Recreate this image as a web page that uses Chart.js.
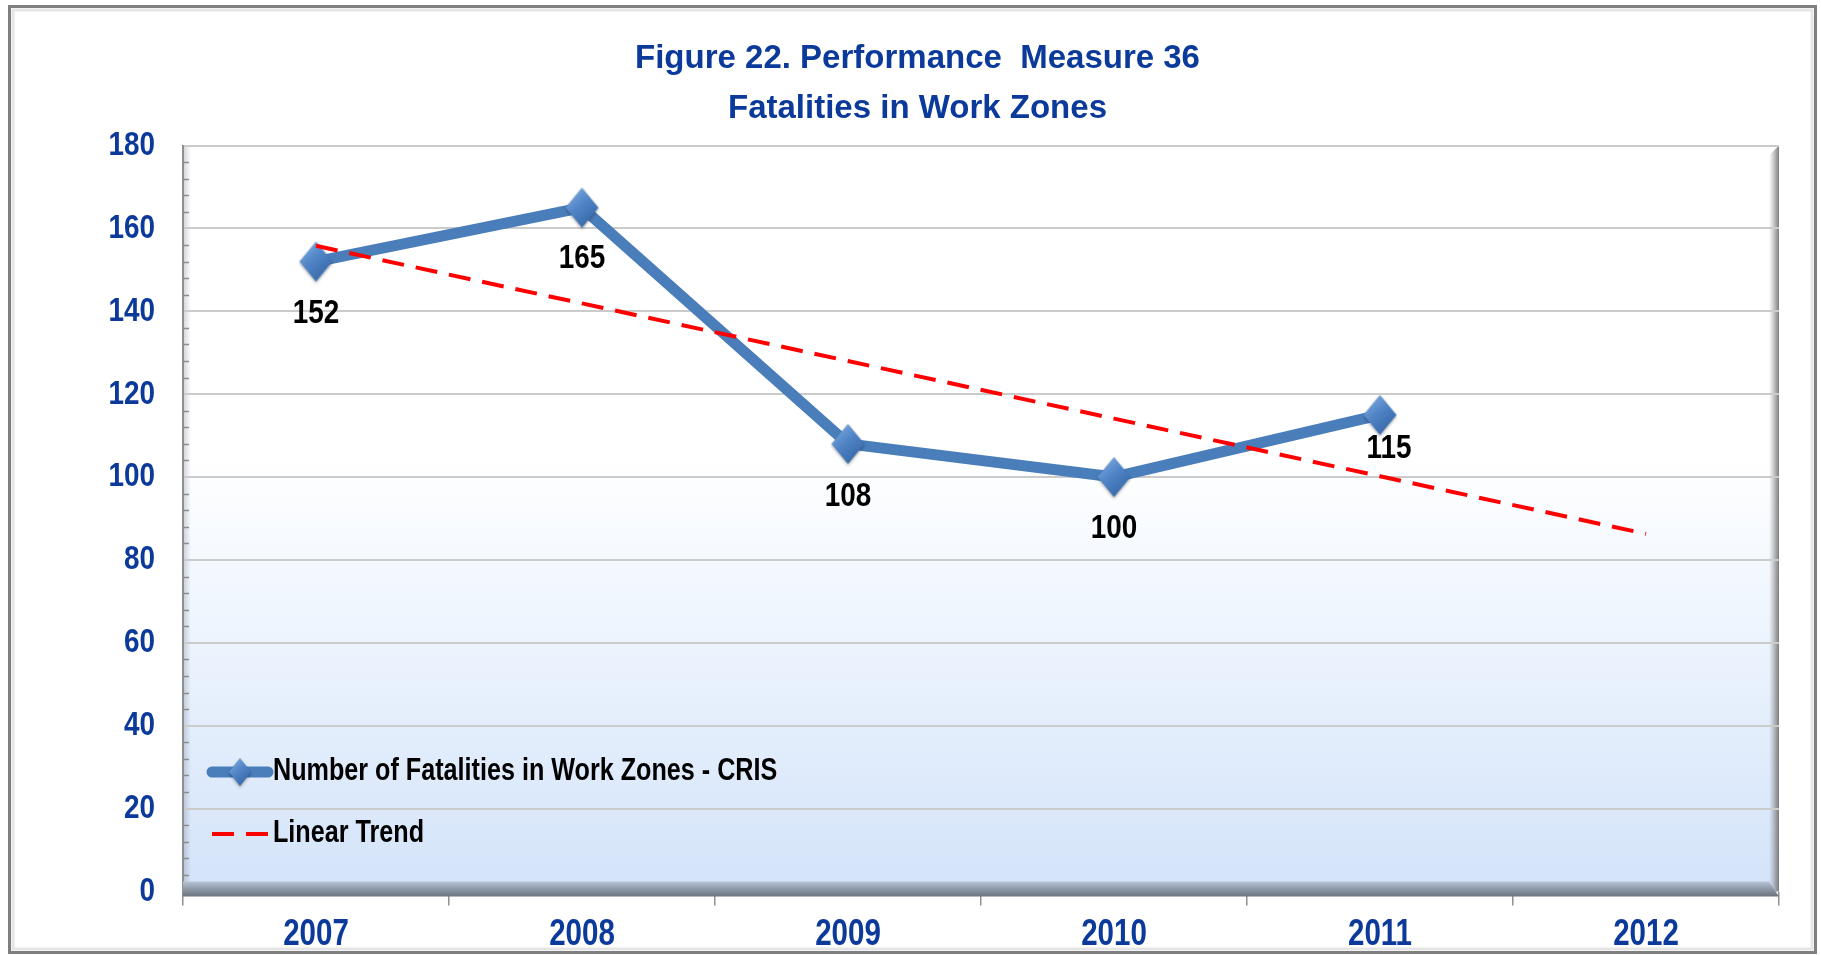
<!DOCTYPE html>
<html>
<head>
<meta charset="utf-8">
<title>Fatalities in Work Zones</title>
<script src="https://cdn.jsdelivr.net/npm/chart.js@4.4.1/dist/chart.umd.min.js"></script>
<style>
  html, body { margin: 0; padding: 0; background: #fff; }
  #chart { display: block; }
</style>
</head>
<body>
<canvas id="chart" width="1821" height="956"></canvas>
<script>
// Work zone fatalities (CRIS) with linear trend, 2007-2012

const years = ['2007', '2008', '2009', '2010', '2011', '2012'];
const fatalities = [152, 165, 108, 100, 115, null];
const linearTrend = [155.8, 141.9, 128.0, 114.1, 100.2, 86.3];
const yTicks = [0, 20, 40, 60, 80, 100, 120, 140, 160, 180];
const titleLines = ['Figure 22. Performance  Measure 36', 'Fatalities in Work Zones'];
const legendLabels = ['Number of Fatalities in Work Zones - CRIS', 'Linear Trend'];

// label nudges (x, y) relative to each point
const labelShift = [[0, 52], [0, 51], [0, 53], [0, 52], [9, 34]];

const FONT = "'Liberation Sans Narrow', 'Arial Narrow', 'Liberation Sans', Arial, sans-serif";
const BLUE_TEXT = '#0b3a9b';
const LINE_BLUE = '#4a7ebb';

// No narrow face installed, so squeeze text horizontally instead.
let squeeze = 0.82;
function condenseText(ctx) {
  const fill = ctx.fillText.bind(ctx);
  ctx.fillText = function (text, x, y, maxWidth) {
    if (squeeze === 1) return maxWidth === undefined ? fill(text, x, y) : fill(text, x, y, maxWidth);
    ctx.save();
    ctx.translate(x, y);
    ctx.scale(squeeze, 1);
    if (maxWidth === undefined) fill(text, 0, 0);
    else fill(text, 0, 0, maxWidth / squeeze);
    ctx.restore();
  };
}

// diamond marker with a bit of shading
function makeDiamond(w, h) {
  const c = document.createElement('canvas');
  c.width = w + 6; c.height = h + 6;
  const g = c.getContext('2d');
  const cx = c.width / 2, cy = c.height / 2;
  g.shadowColor = 'rgba(0,0,0,0.35)';
  g.shadowBlur = 3;
  g.shadowOffsetY = 1.5;
  const grad = g.createLinearGradient(cx - w / 2, cy - h / 2, cx + w / 2, cy + h / 2);
  grad.addColorStop(0, '#8db4e6');
  grad.addColorStop(0.45, '#4f84c6');
  grad.addColorStop(1, '#2f5f9e');
  g.fillStyle = grad;
  g.beginPath();
  g.moveTo(cx, cy - h / 2);
  g.lineTo(cx + w / 2, cy);
  g.lineTo(cx, cy + h / 2);
  g.lineTo(cx - w / 2, cy);
  g.closePath();
  g.fill();
  return c;
}
const diamond = makeDiamond(33, 40);
const smallDiamond = makeDiamond(22, 28);

const frameAndBackground = {
  id: 'frameAndBackground',
  beforeDraw(chart) {
    const { ctx, chartArea: a, width, height } = chart;
    ctx.save();
    ctx.fillStyle = '#fff';
    ctx.fillRect(0, 0, width, height);

    // outer border with a soft inner shadow
    ctx.strokeStyle = '#7f7f7f';
    ctx.lineWidth = 3;
    ctx.strokeRect(9.5, 6.5, width - 15, height - 10);
    ctx.strokeStyle = 'rgba(0,0,0,0.10)';
    ctx.lineWidth = 3;
    ctx.strokeRect(13, 10, width - 22, height - 17);

    // plot background: white fading to pale blue
    const grad = ctx.createLinearGradient(0, a.top, 0, a.bottom);
    grad.addColorStop(0, '#ffffff');
    grad.addColorStop(0.42, '#ffffff');
    grad.addColorStop(0.6, '#f1f7fe');
    grad.addColorStop(1, '#d3e3f9');
    ctx.fillStyle = grad;
    ctx.fillRect(a.left, a.top, a.right - a.left, a.bottom - a.top);

    // left wall shading
    const lw = ctx.createLinearGradient(a.left, 0, a.left + 8, 0);
    lw.addColorStop(0, 'rgba(120,130,150,0.35)');
    lw.addColorStop(1, 'rgba(120,130,150,0)');
    ctx.fillStyle = lw;
    ctx.fillRect(a.left, a.top, 8, a.bottom - a.top);

    // right wall edge
    const rw = ctx.createLinearGradient(a.right - 10, 0, a.right, 0);
    rw.addColorStop(0, 'rgba(140,140,140,0)');
    rw.addColorStop(1, 'rgba(110,110,110,0.9)');
    ctx.fillStyle = rw;
    ctx.beginPath();
    ctx.moveTo(a.right - 10, a.top + 10);
    ctx.lineTo(a.right, a.top);
    ctx.lineTo(a.right, a.bottom);
    ctx.lineTo(a.right - 10, a.bottom);
    ctx.closePath();
    ctx.fill();

    // two-line title, regular width
    squeeze = 1;
    ctx.font = 'bold 33px ' + FONT;
    ctx.fillStyle = BLUE_TEXT;
    ctx.textAlign = 'center';
    ctx.textBaseline = 'middle';
    titleLines.forEach((t, i) => ctx.fillText(t, width / 2 + 7, 59 + i * 50));
    squeeze = 0.82;
    ctx.restore();
  },
  beforeDatasetsDraw(chart) {
    const { ctx, chartArea: a, scales } = chart;
    const y = scales.y;
    ctx.save();
    // floor band
    const fg = ctx.createLinearGradient(0, a.bottom - 10, 0, a.bottom + 5);
    fg.addColorStop(0, '#b9c5d5');
    fg.addColorStop(0.5, '#8d99a8');
    fg.addColorStop(1, '#6a727d');
    ctx.fillStyle = fg;
    ctx.beginPath();
    ctx.moveTo(a.left, a.bottom - 10);
    ctx.lineTo(a.right - 10, a.bottom - 10);
    ctx.lineTo(a.right, a.bottom + 5);
    ctx.lineTo(a.left, a.bottom + 5);
    ctx.closePath();
    ctx.fill();

    // minor ticks on the value axis
    ctx.strokeStyle = '#8c8c8c';
    ctx.lineWidth = 1.5;
    for (let v = 0; v <= 180; v += 4) {
      if (v % 20 === 0) continue;
      const py = Math.round(y.getPixelForValue(v)) + 0.5;
      ctx.beginPath();
      ctx.moveTo(a.left, py);
      ctx.lineTo(a.left + 6, py);
      ctx.stroke();
    }
    ctx.restore();
  }
};

const pointLabels = {
  id: 'pointLabels',
  afterDatasetsDraw(chart) {
    const { ctx } = chart;
    const idx = chart.data.datasets.findIndex(d => d.label === legendLabels[0]);
    const meta = chart.getDatasetMeta(idx);
    ctx.save();
    ctx.font = 'bold 34px ' + FONT;
    ctx.fillStyle = '#000';
    ctx.textAlign = 'center';
    ctx.textBaseline = 'middle';
    meta.data.forEach((pt, i) => {
      const v = fatalities[i];
      if (v == null) return;
      const [dx, dy] = labelShift[i];
      ctx.fillText(String(v), pt.x + dx, pt.y + dy);
    });
    ctx.restore();
  }
};

const chartLegend = {
  id: 'chartLegend',
  afterDraw(chart) {
    const { ctx } = chart;
    const x0 = 210, x1 = 270, tx = 273;
    const rows = [772, 834];
    ctx.save();
    // series swatch
    ctx.strokeStyle = LINE_BLUE;
    ctx.lineWidth = 11;
    ctx.lineCap = 'round';
    ctx.beginPath();
    ctx.moveTo(x0 + 2, rows[0]);
    ctx.lineTo(x1 - 2, rows[0]);
    ctx.stroke();
    ctx.drawImage(smallDiamond, (x0 + x1) / 2 - smallDiamond.width / 2, rows[0] - smallDiamond.height / 2);
    // trend swatch
    ctx.strokeStyle = '#ff0000';
    ctx.lineWidth = 4;
    ctx.lineCap = 'butt';
    ctx.setLineDash([22, 12]);
    ctx.beginPath();
    ctx.moveTo(x0 + 2, rows[1]);
    ctx.lineTo(x1, rows[1]);
    ctx.stroke();
    ctx.setLineDash([]);

    ctx.font = 'bold 30.7px ' + FONT;
    ctx.fillStyle = '#000';
    ctx.textAlign = 'left';
    ctx.textBaseline = 'middle';
    legendLabels.forEach((t, i) => ctx.fillText(t, tx, rows[i]));
    ctx.restore();
  }
};

const canvas = document.getElementById('chart');
const context = canvas.getContext('2d');
condenseText(context);

new Chart(context, {
  type: 'line',
  data: {
    labels: years,
    datasets: [
      {
        label: legendLabels[1],
        data: linearTrend,
        borderColor: '#ff0000',
        borderWidth: 4,
        borderDash: [22, 12],
        pointRadius: 0,
        fill: false,
        order: 0
      },
      {
        label: legendLabels[0],
        data: fatalities,
        borderColor: LINE_BLUE,
        borderWidth: 11,
        borderJoinStyle: 'round',
        pointStyle: diamond,
        pointRadius: 17,
        fill: false,
        order: 1
      }
    ]
  },
  options: {
    responsive: false,
    animation: false,
    layout: { padding: { left: 0, right: 42, top: 145.5, bottom: 0 } },
    plugins: {
      legend: { display: false },
      tooltip: { enabled: false },
      title: { display: false }
    },
    scales: {
      x: {
        offset: true,
        afterFit(scale) { scale.height = 64.5; },
        grid: {
          offset: true,
          drawOnChartArea: false,
          drawTicks: true,
          tickLength: 14,
          color: '#909090',
          lineWidth: 1.5
        },
        border: { display: false },
        ticks: {
          color: BLUE_TEXT,
          font: { family: FONT, size: 36, weight: 'bold' },
          padding: 8,
          maxRotation: 0
        }
      },
      y: {
        min: 0,
        max: 180,
        afterFit(scale) { scale.width = 183; },
        afterBuildTicks(scale) { scale.ticks = yTicks.map(v => ({ value: v })); },
        grid: {
          drawTicks: false,
          color: ctx => ctx.tick && ctx.tick.value === 0 ? 'rgba(0,0,0,0)' : '#cbcbcb',
          lineWidth: 2
        },
        border: { display: true, color: '#8f8f8f', width: 2 },
        ticks: {
          color: BLUE_TEXT,
          font: { family: FONT, size: 34, weight: 'bold' },
          padding: 28
        }
      }
    }
  },
  plugins: [frameAndBackground, pointLabels, chartLegend]
});
</script>
</body>
</html>
